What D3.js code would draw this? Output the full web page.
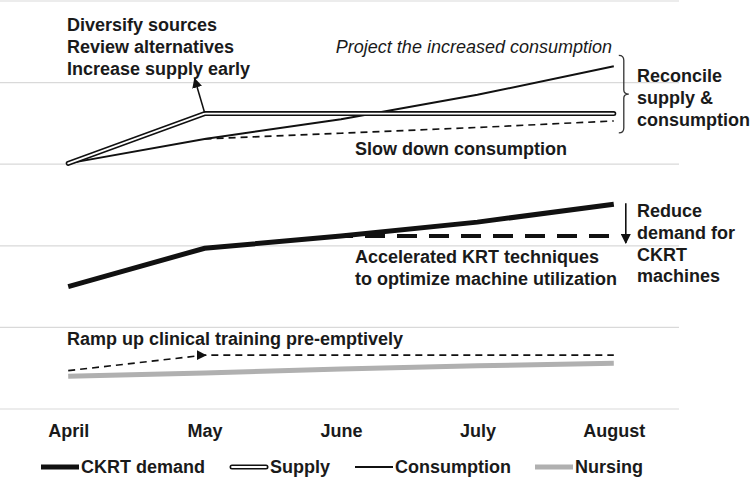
<!DOCTYPE html>
<html><head><meta charset="utf-8">
<script src="https://cdn.jsdelivr.net/npm/d3@7"></script>
<style>body{margin:0;background:#fff}svg{display:block}text{font-family:"Liberation Sans",Arial,sans-serif;fill:#1a1a1a}</style>
</head><body><svg id="c" width="750" height="480"></svg>
<script>
const months = ["April","May","June","July","August"];
const consumption = [3.01, 3.31, 3.55, 3.85, 4.20];
const supply = [3.01, 3.62, 3.62, 3.62, 3.62];
const slowDown = [null, 3.31, 3.38, 3.45, 3.53];
const ckrtDemand = [1.50, 1.97, 2.12, 2.29, 2.51];
const accelerated = [null, null, 2.12, 2.12, 2.12];
const nursing = [0.40, 0.44, 0.49, 0.53, 0.56];
const training = [0.47, 0.66, 0.66, 0.66, 0.66];
const yTicks = [0,1,2,3,4,5];
const legendItems = ["CKRT demand","Supply","Consumption","Nursing"];

const FS = "18px";
const svg = d3.select("#c");
const x = d3.scalePoint().domain(months).range([0,682]).padding(0.5);
const y = d3.scaleLinear().domain([0,5]).range([409,1]);

const defs = svg.append("defs");
defs.append("marker").attr("id","arr").attr("viewBox","0 0 10 10").attr("refX",9).attr("refY",5)
  .attr("markerWidth",10).attr("markerHeight",10).attr("markerUnits","userSpaceOnUse").attr("orient","auto")
  .append("path").attr("d","M0,0L10,5L0,10z").attr("fill","#111");

// gridlines
svg.append("g").selectAll("line").data(yTicks).join("line")
  .attr("x1",0).attr("x2",679).attr("y1",d=>y(d)).attr("y2",d=>y(d))
  .attr("stroke","#d9d9d9").attr("stroke-width",1.2);

// x axis labels
const xAxis = svg.append("g").attr("transform","translate(0,437)")
  .call(d3.axisBottom(x).tickSize(0).tickPadding(0));
xAxis.select(".domain").remove();
xAxis.selectAll("text").attr("dy",0).attr("font-size",FS).attr("font-weight","bold")
  .attr("font-family","Liberation Sans, Arial, sans-serif").attr("fill","#1a1a1a");

const line = d3.line().defined(d=>d!=null).x((d,i)=>x(months[i])).y(d=>y(d));
function series(data, attrs){
  const p = svg.append("path").datum(data).attr("d", line).attr("fill","none");
  for (const k in attrs) p.attr(k, attrs[k]);
  return p;
}

// nursing
series(nursing,{stroke:"#b0b0b0","stroke-width":5});
// training dashed
series(training,{stroke:"#111","stroke-width":1.6,"stroke-dasharray":"7,5"});
// arrow on training at May
svg.append("line").attr("x1",x("May")-12).attr("y1",y(training[1])).attr("x2",x("May")+1).attr("y2",y(training[1]))
  .attr("stroke","none").attr("marker-end","url(#arr)");

// accelerated dashed
series(accelerated,{stroke:"#111","stroke-width":4,"stroke-dasharray":"20,12","stroke-dashoffset":-24});
// demand
series(ckrtDemand,{stroke:"#111","stroke-width":5});

// slow down dashed
series(slowDown,{stroke:"#111","stroke-width":1.6,"stroke-dasharray":"7,5"});
// consumption
series(consumption,{stroke:"#111","stroke-width":2});
// supply double line
series(supply,{stroke:"#111","stroke-width":5,"stroke-linecap":"round","stroke-linejoin":"round"});
series(supply,{stroke:"#fff","stroke-width":1.8,"stroke-linecap":"round","stroke-linejoin":"round"});

// arrow from supply at May
svg.append("line").attr("x1",x("May")).attr("y1",y(supply[1])-1).attr("x2",x("May")-10).attr("y2",y(supply[1])-35)
  .attr("stroke","#111").attr("stroke-width",1.6).attr("marker-end","url(#arr)");

// reduce demand arrow
const ax = x("August")+12;
svg.append("line").attr("x1",ax).attr("y1",y(ckrtDemand[4])-1).attr("x2",ax).attr("y2",y(accelerated[4])+7)
  .attr("stroke","#111").attr("stroke-width",1.6).attr("marker-end","url(#arr)");

// brace
const bx = x("August")+10, bt = y(consumption[4])-11, bb = y(slowDown[4])+12, bm = (bt+bb)/2;
svg.append("path").attr("fill","none").attr("stroke","#333").attr("stroke-width",1.3)
  .attr("d",`M${bx-5},${bt} Q${bx},${bt} ${bx},${bt+5} L${bx},${bm-4} Q${bx},${bm} ${bx+5},${bm} Q${bx},${bm} ${bx},${bm+4} L${bx},${bb-5} Q${bx},${bb} ${bx-5},${bb}`);

function txt(lines, xx, y0, opts={}){
  const t = svg.append("text").attr("x",xx).attr("y",y0).attr("font-size",opts.size||FS)
    .attr("font-weight",opts.italic?"normal":"bold").attr("text-anchor",opts.anchor||"start");
  if (opts.italic) t.attr("font-style","italic");
  lines.forEach((l,i)=>t.append("tspan").attr("x",xx).attr("dy",i===0?0:21.8).text(l));
}
txt(["Diversify sources","Review alternatives","Increase supply early"],67,31);
txt(["Project the increased consumption"],612,53,{italic:true,anchor:"end",size:"18px"});
txt(["Reconcile","supply &","consumption"],637,82);
txt(["Slow down consumption"],567,155,{anchor:"end"});
txt(["Accelerated KRT techniques","to optimize machine utilization"],355,263);
txt(["Reduce","demand for","CKRT","machines"],637,217);
txt(["Ramp up clinical training pre-emptively"],67,345);

// legend
const lg = svg.append("g");
const lx = [41,230,355,535];
legendItems.forEach((name,i)=>{
  const g = lg.append("g").attr("transform",`translate(${lx[i]},467)`);
  if (i===0) g.append("line").attr("x1",0).attr("x2",38).attr("stroke","#111").attr("stroke-width",5);
  if (i===1){
    g.append("line").attr("x1",2).attr("x2",36).attr("stroke","#111").attr("stroke-width",5).attr("stroke-linecap","round");
    g.append("line").attr("x1",2).attr("x2",36).attr("stroke","#fff").attr("stroke-width",1.8).attr("stroke-linecap","round");
  }
  if (i===2) g.append("line").attr("x1",0).attr("x2",38).attr("stroke","#111").attr("stroke-width",2);
  if (i===3) g.append("line").attr("x1",0).attr("x2",38).attr("stroke","#b0b0b0").attr("stroke-width",5);
  g.append("text").attr("x",40).attr("y",6).attr("font-size",FS).attr("font-weight","bold").text(name);
});
</script></body></html>
